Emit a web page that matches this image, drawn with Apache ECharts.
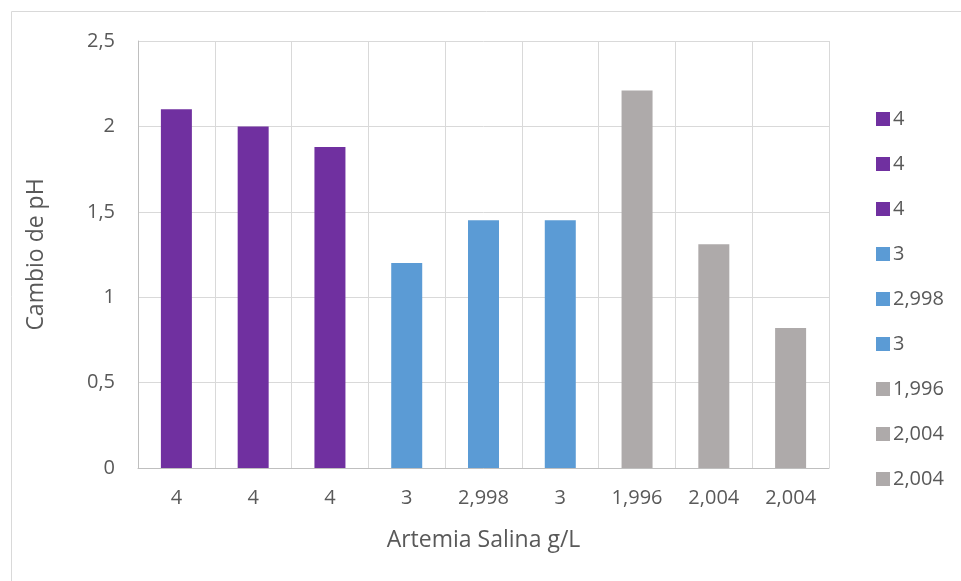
<!DOCTYPE html>
<html>
<head>
<meta charset="utf-8">
<script src="https://cdn.jsdelivr.net/npm/echarts@6/dist/echarts.min.js"></script>
<style>html,body{margin:0;padding:0;background:#fff;}#c{width:961px;height:581px;}</style>
</head>
<body>
<div id="c"></div>
<script>
const categories = ["4", "4", "4", "3", "2,998", "3", "1,996", "2,004", "2,004"];
const values = [2.1, 2.0, 1.88, 1.2, 1.45, 1.45, 2.21, 1.31, 0.82];
const colors = ["#7030A0", "#7030A0", "#7030A0", "#5B9BD5", "#5B9BD5", "#5B9BD5", "#AEAAAA", "#AEAAAA", "#AEAAAA"];
const yTicks = ["0", "0,5", "1", "1,5", "2", "2,5"];

const FONT = "'Open Sans', sans-serif";
const TXT = "#595959";

const series = values.map((v, i) => ({
  name: "s" + i,
  type: "bar",
  stack: "all",
  barWidth: 31,
  itemStyle: { color: colors[i] },
  data: values.map((_, j) => (j === i ? v : null))
}));

const chart = echarts.init(document.getElementById("c"));
chart.setOption({
  animation: false,
  textStyle: { fontFamily: FONT },
  graphic: [{
    type: "rect",
    shape: { x: 11.5, y: 11.5, width: 1000, height: 1000 },
    style: { fill: "none", stroke: "#d9d9d9", lineWidth: 1 },
    silent: true
  }],
  grid: { left: 138, right: 132, top: 41, bottom: 113 },
  legend: {
    orient: "vertical",
    left: 871,
    top: 104,
    itemWidth: 14,
    itemHeight: 14,
    itemGap: 25,
    icon: "rect",
    data: series.map(s => s.name),
    formatter: name => categories[+name.slice(1)],
    textStyle: { fontFamily: FONT, fontSize: 20, color: TXT, padding: [0, 0, 0, -2] }
  },
  xAxis: {
    type: "category",
    data: categories,
    name: "Artemia Salina g/L",
    nameLocation: "middle",
    nameGap: 61,
    nameTextStyle: { fontFamily: FONT, fontSize: 23, color: TXT },
    axisLine: { show: true, lineStyle: { color: "#bfbfbf", width: 1 } },
    axisTick: { show: false },
    axisLabel: { interval: 0, margin: 20, fontFamily: FONT, fontSize: 20, color: TXT },
    splitLine: { show: true, interval: 0, lineStyle: { color: "#d9d9d9", width: 1 } }
  },
  yAxis: {
    type: "value",
    min: 0,
    max: 2.5,
    interval: 0.5,
    name: "Cambio de pH",
    nameLocation: "middle",
    nameGap: 90,
    nameTextStyle: { fontFamily: FONT, fontSize: 23, color: TXT },
    axisLine: { show: true, lineStyle: { color: "#bfbfbf", width: 1 } },
    axisTick: { show: false },
    axisLabel: {
      margin: 23, fontFamily: FONT, fontSize: 20, color: TXT,
      formatter: (v) => yTicks[Math.round(v / 0.5)]
    },
    splitLine: { show: true, lineStyle: { color: "#d9d9d9", width: 1 } }
  },
  series: series
});
</script>
</body>
</html>
